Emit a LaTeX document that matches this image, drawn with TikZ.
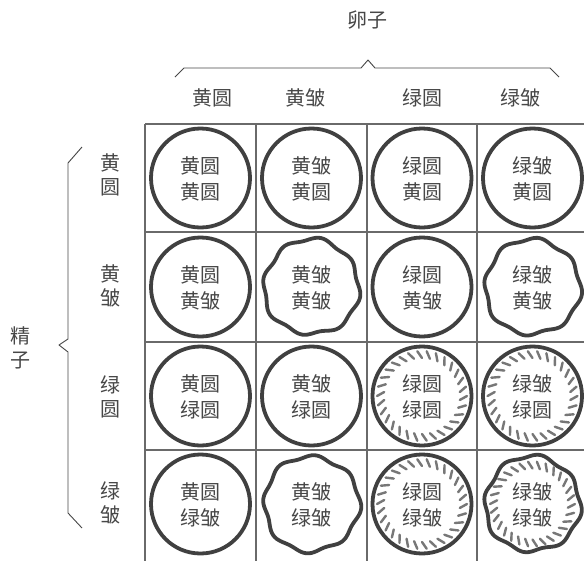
\documentclass[tikz,border=0pt]{standalone}
\usepackage{fontspec}
\newfontfamily\cjk{Noto Sans CJK SC}
\definecolor{ink}{HTML}{474747}
\definecolor{ring}{HTML}{404040}
\definecolor{gridc}{HTML}{6A6A6A}
\definecolor{hatchc}{HTML}{777777}
\begin{document}
\begin{tikzpicture}[x=1pt,y=-1pt,
  gridline/.style={draw=gridc,line width=1.1pt},
  bracket/.style={draw=ink,line width=0.9pt,line join=round},
  outline/.style={draw=ring,line width=3.8pt},
  hatchline/.style={draw=hatchc,line width=2.4pt,line cap=round},
  celltext/.style={text=ink,align=center,inner sep=0pt,
    font=\cjk\fontsize{20}{26}\selectfont},
  headtext/.style={text=ink,align=center,inner sep=0pt,
    font=\cjk\fontsize{20}{24}\selectfont},
  roundcell/.style={circle,outline,minimum size=99pt,inner sep=0pt}]
\useasboundingbox (0,0) rectangle (584,560);
\fill[white] (0,0) rectangle (584,560);

% grid of the Punnett square
\begin{scope}
  \clip (0,0) rectangle (584,560);
  \foreach \gx in {145,256,367,477}
    \draw[gridline] (\gx,124) -- (\gx,600);
  \foreach \gy in {124,232,342,450}
    \draw[gridline] (145,\gy) -- (620,\gy);
\end{scope}

% headings
\node[headtext] (egg) at (367,20) {卵子};
\node[headtext] (sperm) at (20,348) {精\\子};
\foreach \cx/\cl [count=\c] in {212/黄圆,305/黄皱,422/绿圆,520/绿皱}
  \node[headtext] (col-\c) at (\cx,98) {\cl};
\foreach \ry/\ra/\rb [count=\r] in {175/黄/圆,286/黄/皱,397/绿/圆,503/绿/皱}
  \node[headtext] (row-\r) at (110,\ry) {\ra\\\rb};

% braces
\coordinate (tb-l) at (175,77);
\coordinate (tb-r) at (559,77);
\coordinate (tb-tip) at (368,60);
\draw[bracket] (tb-l) -- (184,68) -- (361,68) -- (tb-tip) -- (375,68) -- (550,68) -- (tb-r);
\coordinate (lb-t) at (82,147);
\coordinate (lb-b) at (82,528);
\coordinate (lb-tip) at (59,345);
\draw[bracket] (lb-t) -- (68,163) -- (68,339) -- (lb-tip) -- (68,352) -- (68,513) -- (lb-b);

% offspring cells: top line = egg, bottom line = sperm
\foreach \ry/\rl [count=\r] in {178/黄圆,287/黄皱,396/绿圆,504/绿皱}{
  \foreach \cx/\cl [count=\c] in {200.5/黄圆,311.5/黄皱,422/绿圆,532.5/绿皱}{
    \node[celltext] (t-\r-\c) at (\cx,\ry+1) {\cl\\\rl};
  }
}

% smooth (round) seeds
\foreach \r/\c/\cx/\cy in {1/1/200.5/178,1/2/311.5/178,1/3/422/178,1/4/532.5/178,
    2/1/200.5/287,2/3/422/287,3/1/200.5/396,3/2/311.5/396,3/3/422/396,3/4/532.5/396,
    4/1/200.5/504,4/3/422/504}
  \node[roundcell] (o-\r-\c) at (\cx,\cy) {};

% wrinkled seeds
\foreach \r/\c/\cx/\cy/\ph in {2/2/311.5/287/0,2/4/532.5/287/25,4/2/311.5/504/50,4/4/532.5/504/15}
  \draw[outline,line join=round] plot[smooth cycle,samples=64,domain=0:354.375,variable=\t]
    ({\cx+(47.5+1.7*sin(8*\t+\ph)+0.8*sin(3*\t+2*\ph))*cos(\t)},
     {\cy+(47.5+1.7*sin(8*\t+\ph)+0.8*sin(3*\t+2*\ph))*sin(\t)});

% green cotyledon shading inside green seeds
\foreach \cx/\cy/\ro in {422/396/45,532.5/396/45,422/504/45,532.5/504/42.5}
  \foreach \a in {0,12,...,348}
    \draw[hatchline] ({\cx+\ro*cos(\a)},{\cy+\ro*sin(\a)}) --
      ({\cx+(\ro-7)*cos(\a+6)},{\cy+(\ro-7)*sin(\a+6)});
\end{tikzpicture}
\end{document}
